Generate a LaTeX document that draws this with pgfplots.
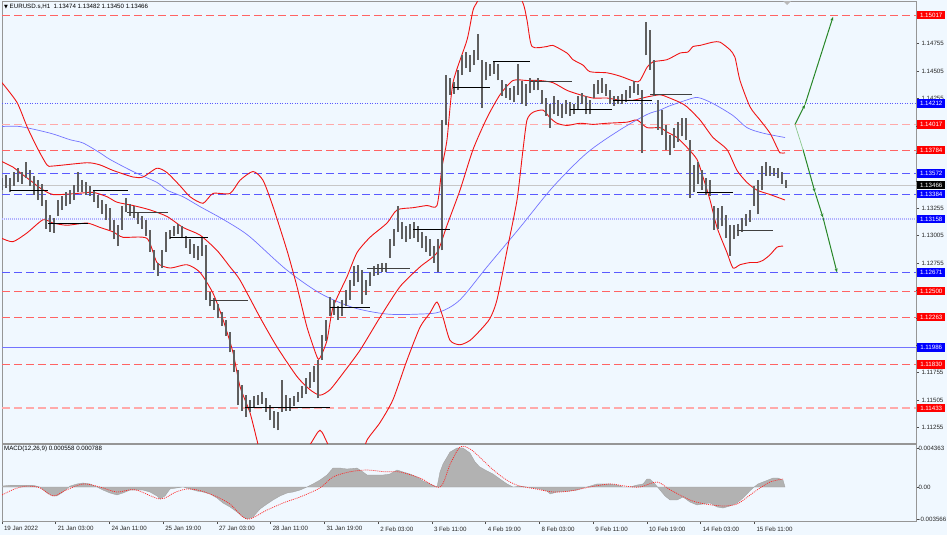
\documentclass[border=0pt]{standalone}
\usepackage{pgfplots}
\pgfplotsset{compat=1.18}
\usepackage{pgfplotstable}
\usepackage{fontspec}
\setmainfont{Liberation Sans}
\newfontfamily\dejavu{DejaVu Sans}
\usetikzlibrary{arrows.meta}

\definecolor{bgc}{RGB}{240,248,255}
\definecolor{lvlred}{RGB}{255,100,100}
\definecolor{lvlpink}{RGB}{255,170,170}
\definecolor{lvlblue}{RGB}{90,90,255}
\definecolor{lvllav}{RGB}{175,175,255}
\definecolor{maline}{RGB}{115,115,255}
\definecolor{bbred}{RGB}{240,20,20}
\definecolor{candle}{RGB}{95,95,95}
\definecolor{arrowgreen}{RGB}{40,135,40}
\definecolor{lightgreen}{RGB}{140,200,140}
\definecolor{framegray}{RGB}{150,150,150}
\definecolor{lblred}{RGB}{255,0,0}
\definecolor{lblblue}{RGB}{0,0,255}

\newcommand\tk{\fontsize{6.2}{7}\selectfont}
% price box on the right scale
\newcommand\lbl[2]{\node[fill=#2, text=white, anchor=west, minimum width=28bp,
  minimum height=8.5bp, inner sep=0pt, font=\tk, xshift=1bp] at (axis cs:916,#1) {#1};}
\newcommand\lvl[2]{\addplot[#2] coordinates {(2,#1) (916,#1)};}

% hourly price range (x = chart position, lo/hi = price)
\pgfplotstableread{
x lo hi
2 1.1342 1.1353
6 1.1344 1.1356
10 1.1340 1.1353
14 1.1346 1.1359
18 1.1349 1.1362
22 1.1348 1.1359
26 1.1353 1.1368
30 1.1346 1.1360
34 1.1338 1.1355
38 1.1333 1.1351
42 1.1328 1.1348
46 1.1307 1.1333
50 1.1304 1.1319
54 1.1303 1.1317
58 1.1318 1.1333
62 1.1324 1.1337
66 1.1328 1.1340
70 1.1329 1.1342
74 1.1333 1.1347
78 1.1340 1.1359
82 1.1340 1.1351
86 1.1338 1.1349
90 1.1337 1.1346
94 1.1331 1.1342
98 1.1326 1.1338
102 1.1320 1.1333
106 1.1315 1.1329
110 1.1306 1.1326
114 1.1297 1.1315
118 1.1291 1.1310
122 1.1306 1.1328
126 1.1322 1.1335
130 1.1318 1.1329
134 1.1317 1.1328
138 1.1311 1.1322
142 1.1307 1.1318
146 1.1300 1.1315
150 1.1286 1.1306
154 1.1269 1.1287
158 1.1264 1.1276
162 1.1271 1.1287
166 1.1286 1.1304
170 1.1297 1.1306
174 1.1300 1.1309
178 1.1302 1.1311
182 1.1298 1.1309
186 1.1289 1.1300
190 1.1284 1.1297
194 1.1280 1.1293
198 1.1278 1.1291
202 1.1282 1.1298
206 1.1242 1.1292
210 1.1236 1.1249
214 1.1233 1.1244
218 1.1225 1.1238
222 1.1218 1.1231
226 1.1209 1.1224
230 1.1194 1.1213
234 1.1176 1.1196
238 1.1146 1.1178
242 1.1141 1.1164
246 1.1135 1.1155
250 1.1140 1.1151
254 1.1143 1.1154
258 1.1146 1.1155
262 1.1147 1.1158
266 1.1140 1.1152
270 1.1132 1.1146
274 1.1125 1.1141
278 1.1123 1.1140
282 1.1140 1.1169
286 1.1141 1.1155
290 1.1141 1.1152
294 1.1145 1.1154
298 1.1149 1.1158
302 1.1152 1.1163
306 1.1156 1.1171
310 1.1162 1.1176
314 1.1167 1.1182
318 1.1152 1.1187
322 1.1187 1.1210
326 1.1204 1.1224
330 1.1227 1.1245
334 1.1228 1.1242
338 1.1224 1.1236
342 1.1227 1.1242
346 1.1236 1.1251
350 1.1242 1.1260
354 1.1255 1.1273
358 1.1258 1.1274
362 1.1238 1.1269
366 1.1246 1.1260
370 1.1255 1.1267
374 1.1264 1.1273
378 1.1265 1.1275
382 1.1267 1.1276
386 1.1267 1.1276
390 1.1280 1.1297
394 1.1291 1.1307
398 1.1304 1.1328
402 1.1297 1.1313
406 1.1295 1.1309
410 1.1297 1.1311
414 1.1298 1.1313
418 1.1295 1.1309
422 1.1289 1.1304
426 1.1286 1.1300
430 1.1282 1.1297
434 1.1276 1.1291
438 1.1267 1.1297
442 1.1287 1.1406
446 1.1401 1.1447
450 1.1429 1.1444
454 1.1430 1.1441
458 1.1433 1.1452
462 1.1447 1.1465
466 1.1453 1.1468
470 1.1450 1.1465
474 1.1456 1.1470
478 1.1461 1.1484
482 1.1417 1.1461
486 1.1442 1.1459
490 1.1446 1.1457
494 1.1448 1.1459
498 1.1442 1.1457
502 1.1428 1.1442
506 1.1426 1.1439
510 1.1424 1.1435
514 1.1422 1.1437
518 1.1429 1.1457
522 1.1421 1.1442
526 1.1419 1.1439
530 1.1431 1.1444
534 1.1433 1.1442
538 1.1433 1.1444
542 1.1421 1.1433
546 1.1410 1.1426
550 1.1399 1.1421
554 1.1411 1.1428
558 1.1410 1.1424
562 1.1408 1.1421
566 1.1411 1.1424
570 1.1410 1.1422
574 1.1411 1.1421
578 1.1415 1.1428
582 1.1421 1.1431
586 1.1411 1.1428
590 1.1411 1.1424
594 1.1426 1.1439
598 1.1430 1.1442
602 1.1431 1.1444
606 1.1428 1.1439
610 1.1421 1.1433
614 1.1419 1.1428
618 1.1421 1.1428
622 1.1421 1.1430
626 1.1422 1.1433
630 1.1426 1.1437
634 1.1431 1.1442
638 1.1429 1.1439
642 1.1376 1.1433
646 1.1465 1.1495
650 1.1452 1.1488
654 1.1428 1.1461
658 1.1397 1.1424
662 1.1392 1.1415
666 1.1379 1.1401
670 1.1374 1.1392
674 1.1380 1.1399
678 1.1386 1.1404
682 1.1391 1.1408
686 1.1388 1.1408
690 1.1335 1.1388
694 1.1340 1.1365
698 1.1348 1.1368
702 1.1342 1.1360
706 1.1338 1.1353
710 1.1337 1.1351
714 1.1306 1.1328
718 1.1307 1.1326
722 1.1309 1.1328
726 1.1298 1.1319
730 1.1282 1.1310
734 1.1297 1.1310
738 1.1300 1.1311
742 1.1304 1.1317
746 1.1309 1.1320
750 1.1313 1.1324
754 1.1328 1.1346
758 1.1320 1.1351
762 1.1342 1.1364
766 1.1355 1.1368
770 1.1355 1.1364
774 1.1355 1.1362
778 1.1353 1.1362
782 1.1348 1.1359
786 1.1344 1.1351
}\candles

\begin{document}
\begin{tikzpicture}
\fill[bgc] (0,0) rectangle (947bp,-535bp);
\path[use as bounding box] (0,0) rectangle (947bp,-535bp);

\begin{axis}[
    name=main, at={(2bp,-1bp)}, anchor=north west,
    scale only axis, width=914bp, height=442bp,
    xmin=2, xmax=916, ymin=1.11114, ymax=1.15145,
    axis line style={framegray, line width=1bp},
    xtick=\empty,
    ytick={1.11255,1.11505,1.11755,1.12755,1.13005,1.13255,1.14255,1.14505,1.14755},
    yticklabels={1.11255,1.11505,1.11755,1.12755,1.13005,1.13255,1.14255,1.14505,1.14755},
    extra y ticks={1.12005,1.12255,1.12505,1.13505,1.13755,1.14005},
    extra y tick labels={},
    ytick pos=right, yticklabel pos=right, scaled y ticks=false,
    tick align=outside, major tick length=3bp,
    tick style={black!70, line width=0.6bp},
    yticklabel style={font=\tk, anchor=west, xshift=-1bp, text=black!85},
    after end axis/.code={
      \lbl{1.15017}{lblred}
      \lbl{1.14212}{lblblue}
      \lbl{1.14017}{lblred}
      \lbl{1.13784}{lblred}
      \lbl{1.13572}{lblblue}
      \lbl{1.13466}{black}
      \lbl{1.13384}{lblblue}
      \lbl{1.13158}{lblblue}
      \lbl{1.12671}{lblblue}
      \lbl{1.12500}{lblred}
      \lbl{1.12263}{lblred}
      \lbl{1.11986}{lblblue}
      \lbl{1.11830}{lblred}
      \lbl{1.11433}{lblred}
    },
]
% horizontal levels
\lvl{1.15017}{lvlred, line width=0.9bp, dash pattern=on 8bp off 4bp}
\lvl{1.14212}{lvlblue, line width=0.8bp, dash pattern=on 1bp off 1.5bp}
\lvl{1.14017}{lvlpink, line width=1.6bp, dash pattern=on 8bp off 4bp}
\lvl{1.13784}{lvlred, line width=0.9bp, dash pattern=on 8bp off 4bp}
\lvl{1.13572}{lvlblue, line width=0.9bp, dash pattern=on 8bp off 4bp}
\lvl{1.13466}{black!22, line width=0.7bp}
\lvl{1.13384}{lvlblue, line width=0.9bp, dash pattern=on 8bp off 4bp}
\lvl{1.13158}{lvllav, line width=1.6bp, dash pattern=on 1bp off 1bp}
\lvl{1.12671}{lvlblue, line width=0.9bp, dash pattern=on 8bp off 4bp}
\lvl{1.12500}{lvlred, line width=0.9bp, dash pattern=on 8bp off 4bp}
\lvl{1.12263}{lvlred, line width=0.9bp, dash pattern=on 8bp off 4bp}
\lvl{1.11986}{maline, line width=0.9bp}
\lvl{1.11830}{lvlred, line width=0.9bp, dash pattern=on 8bp off 4bp}
\lvl{1.11433}{lvlpink, line width=1.6bp, dash pattern=on 8bp off 4bp}

% slow moving average
\addplot[maline, line width=0.7bp, smooth] coordinates {
(2,1.1400) (20,1.1400) (50,1.1394) (70,1.1388) (83,1.1385) (100,1.1376) (110,1.1370)
(133,1.1359) (157,1.1349) (167,1.1342) (183,1.1336) (200,1.1327) (220,1.1317)
(240,1.1306) (253,1.1297) (287,1.1269) (320,1.1248) (353,1.1235) (387,1.1229)
(420,1.1229) (440,1.1231) (460,1.1242) (487,1.1272) (520,1.1308) (553,1.1345)
(587,1.1376) (620,1.1397) (647,1.1411) (660,1.1415) (670,1.1419) (693,1.1426)
(700,1.1426) (713,1.1421) (733,1.1410) (747,1.1399) (763,1.1394) (785,1.1390)};

% Bollinger bands
\addplot[bbred, line width=0.9bp, smooth, tension=0.4] coordinates {
(2,1.1440) (17,1.1422) (27,1.1400) (37,1.1381) (47,1.1365) (53,1.1364) (87,1.1367)
(100,1.1365) (113,1.1360) (133,1.1354) (143,1.1354) (157,1.1362) (167,1.1358)
(180,1.1346) (190,1.1336) (203,1.1330) (213,1.1339) (230,1.1339) (240,1.1351)
(253,1.1359) (263,1.1351) (273,1.1327) (287,1.1287) (297,1.1254) (307,1.1217)
(317,1.1190) (320,1.1189) (327,1.1205) (333,1.1235) (347,1.1263) (357,1.1285)
(370,1.1299) (387,1.1312) (397,1.1324) (413,1.1326) (427,1.1328) (437,1.1328)
(442,1.1363) (447,1.1388) (453,1.1440) (467,1.1479) (473,1.1506) (478,1.1515)
(500,1.1552) (522,1.1515) (527,1.1497) (532,1.1473) (547,1.1473) (553,1.1474)
(567,1.1467) (573,1.1461) (583,1.1456) (590,1.1450) (607,1.1449) (620,1.1446)
(635,1.1441) (640,1.1442) (647,1.1454) (653,1.1459) (667,1.1461) (680,1.1467)
(688,1.1468) (693,1.1473) (700,1.1474) (713,1.1477) (720,1.1477) (730,1.1470)
(735,1.1463) (740,1.1442) (750,1.1418) (760,1.1406) (770,1.1394) (777,1.1381)
(780,1.1376) (785,1.1376)};
\addplot[bbred, line width=0.9bp, smooth, tension=0.4] coordinates {
(2,1.1368) (13,1.1363) (20,1.1358) (33,1.1349) (40,1.1344) (53,1.1338) (77,1.1339)
(93,1.1340) (107,1.1336) (117,1.1331) (133,1.1328) (150,1.1324) (167,1.1318)
(183,1.1308) (200,1.1301) (217,1.1287) (230,1.1272) (240,1.1260) (260,1.1226)
(277,1.1199) (297,1.1172) (310,1.1160) (320,1.1155) (330,1.1160) (343,1.1175)
(360,1.1196) (380,1.1226) (400,1.1254) (420,1.1272) (437,1.1285) (447,1.1310)
(460,1.1342) (473,1.1379) (487,1.1408) (500,1.1429) (513,1.1442) (527,1.1442)
(540,1.1442) (553,1.1440) (567,1.1433) (580,1.1429) (593,1.1426) (607,1.1426)
(620,1.1424) (633,1.1424) (647,1.1427) (660,1.1429) (667,1.1427) (680,1.1422)
(687,1.1418) (700,1.1406) (713,1.1390) (727,1.1379) (737,1.1360) (747,1.1349)
(757,1.1342) (770,1.1338) (785,1.1333)};
\addplot[bbred, line width=0.9bp, smooth, tension=0.4] coordinates {
(2,1.1298) (13,1.1295) (27,1.1303) (43,1.1315) (53,1.1312) (67,1.1310) (87,1.1312)
(100,1.1308) (113,1.1304) (123,1.1299) (147,1.1298) (157,1.1276) (170,1.1271)
(187,1.1274) (200,1.1267) (213,1.1248) (223,1.1224) (233,1.1194) (240,1.1163)
(250,1.1139) (257,1.1114) (265,1.1087) (290,1.1087) (310,1.1110) (320,1.1123)
(328,1.1110) (340,1.1087) (360,1.1096) (367,1.1114) (380,1.1130) (393,1.1151)
(407,1.1187) (420,1.1217) (430,1.1230) (437,1.1240) (443,1.1226) (450,1.1205)
(460,1.1201) (470,1.1205) (480,1.1214) (490,1.1225) (497,1.1242) (507,1.1287)
(517,1.1333) (523,1.1379) (527,1.1406) (533,1.1413) (543,1.1415) (550,1.1408)
(557,1.1403) (567,1.1401) (580,1.1403) (593,1.1402) (607,1.1403) (627,1.1404)
(637,1.1406) (647,1.1399) (660,1.1399) (667,1.1395) (677,1.1390) (687,1.1381)
(697,1.1370) (703,1.1354) (710,1.1333) (717,1.1308) (727,1.1285) (733,1.1271)
(740,1.1274) (750,1.1276) (757,1.1276) (763,1.1278) (770,1.1283) (777,1.1290)
(783,1.1291)};

% candles as high-low ranges
\addplot[only marks, mark=*, mark size=0pt, mark options={draw opacity=0, fill opacity=0},
  error bars/.cd, y dir=plus, y explicit, error mark=none,
  error bar style={line width=2.2bp, candle, draw opacity=1}]
  table[x=x, y=lo, y error plus expr=\thisrow{hi}-\thisrow{lo}] {\candles};

% session open lines
\addplot[black, line width=1bp] coordinates {(10,1.1342) (48,1.1342)};
\addplot[black, line width=1bp] coordinates {(48,1.1312) (88,1.1312)};
\addplot[black, line width=1bp] coordinates {(93,1.1342) (128,1.1342)};
\addplot[black!75, line width=1bp] coordinates {(127,1.1322) (168,1.1322)};
\addplot[black, line width=1bp] coordinates {(170,1.1299) (208,1.1299)};
\addplot[black!75, line width=1bp] coordinates {(210,1.1241) (248,1.1241)};
\addplot[black, line width=1bp] coordinates {(245,1.1144) (330,1.1144)};
\addplot[black, line width=1bp] coordinates {(330,1.1235) (370,1.1235)};
\addplot[black!75, line width=1bp] coordinates {(367,1.1271) (410,1.1271)};
\addplot[black, line width=1bp] coordinates {(413,1.1306) (450,1.1306)};
\addplot[black, line width=1bp] coordinates {(453,1.1436) (490,1.1436)};
\addplot[black, line width=1bp] coordinates {(493,1.1459) (530,1.1459)};
\addplot[black!75, line width=1bp] coordinates {(530,1.1441) (572,1.1441)};
\addplot[black, line width=1bp] coordinates {(570,1.1416) (612,1.1416)};
\addplot[black, line width=1bp] coordinates {(613,1.1424) (652,1.1424)};
\addplot[black!75, line width=1bp] coordinates {(650,1.1429) (692,1.1429)};
\addplot[black, line width=1bp] coordinates {(697,1.1340) (733,1.1340)};
\addplot[black!75, line width=1bp] coordinates {(737,1.1305) (773,1.1305)};

% forecast arrows
\addplot[arrowgreen, line width=1bp, -{Stealth[length=4bp,width=3bp]}] coordinates {(795,1.1402) (805,1.1420)};
\addplot[arrowgreen, line width=1bp, -{Stealth[length=4bp,width=3bp]}] coordinates {(805,1.1420) (833,1.1500)};
\addplot[lightgreen, line width=0.7bp] coordinates {(795,1.1402) (803,1.1379)};
\addplot[arrowgreen, line width=1bp, -{Stealth[length=4bp,width=3bp]}] coordinates {(803,1.1379) (815,1.1340)};
\addplot[arrowgreen, line width=1bp, -{Stealth[length=4bp,width=3bp]}] coordinates {(815,1.1340) (823,1.1317)};
\addplot[arrowgreen, line width=1bp, -{Stealth[length=4bp,width=3bp]}] coordinates {(823,1.1317) (837,1.1267)};
\end{axis}

\begin{axis}[
    name=macd, at={(2bp,-444bp)}, anchor=north west,
    scale only axis, width=914bp, height=77bp,
    xmin=2, xmax=916, ymin=-0.003799, ymax=0.004804,
    axis line style={framegray, line width=1bp},
    xtick={2,55.75,109.5,163.25,217,270.75,324.5,378.25,432,485.75,539.5,593.25,647,700.75,754.5},
    xticklabels={19 Jan 2022,21 Jan 03:00,24 Jan 11:00,25 Jan 19:00,27 Jan 03:00,28 Jan 11:00,31 Jan 19:00,2 Feb 03:00,3 Feb 11:00,4 Feb 19:00,8 Feb 03:00,9 Feb 11:00,10 Feb 19:00,14 Feb 03:00,15 Feb 11:00},
    xtick pos=bottom, xticklabel style={font=\tk, anchor=north west, xshift=-1.5bp, yshift=1bp, text=black!85},
    ytick={-0.003566,0,0.004363},
    yticklabels={-0.003566,0.00,0.004363},
    ytick pos=right, yticklabel pos=right, scaled y ticks=false, scaled x ticks=false,
    tick align=outside, major tick length=3bp,
    tick style={black!70, line width=0.6bp},
    yticklabel style={font=\tk, anchor=west, xshift=-4bp, text=black!85},
]
\addplot[fill=gray!60, draw=gray!75, line width=0.3bp] coordinates {
(2,0) (2,0.0001) (10,0.0002) (20,0.0002) (33,0.0002) (40,0) (47,-0.00067) (53,-0.0010)
(57,-0.0010) (63,-0.00056) (70,0.0001) (77,0.00034) (83,0.00045) (90,0.00034) (97,0)
(103,-0.00034) (110,-0.00067) (117,-0.00089) (123,-0.00067) (130,-0.00034) (143,-0.00034)
(150,-0.00056) (157,-0.0010) (160,-0.00134) (165,-0.0010) (170,-0.00022) (177,-0.0001)
(183,0) (190,-0.00022) (197,-0.00045) (203,-0.00056) (210,-0.00078) (217,-0.00123)
(223,-0.00179) (230,-0.00223) (237,-0.00279) (243,-0.00335) (247,-0.00358) (253,-0.00335)
(260,-0.00246) (267,-0.0019) (273,-0.00145) (280,-0.0010) (287,-0.00067) (293,-0.00056)
(300,-0.00034) (307,0) (313,0.00034) (320,0.00078) (327,0.00134) (333,0.00212)
(340,0.00212) (347,0.00201) (357,0.00212) (363,0.00168) (367,0.00134) (383,0.00134)
(390,0.00145) (397,0.0019) (403,0.00168) (410,0.00145) (417,0.00112) (423,0.00067)
(430,0.00034) (437,0) (440,0.00168) (443,0.00257) (450,0.0039) (457,0.00436)
(463,0.00436) (470,0.0038) (475,0.0028) (480,0.00223) (487,0.00179) (493,0.00145)
(500,0.00089) (507,0.00034) (513,0) (520,0.0001) (527,0) (533,-0.0001) (540,-0.00022)
(547,-0.00045) (550,-0.00078) (557,-0.00056) (570,-0.00045) (577,-0.00034) (583,-0.0001)
(590,0.0001) (597,0.00034) (610,0.00034) (617,0.00022) (623,0) (630,0) (637,0.00022)
(643,0.00034) (647,0.00089) (650,0.00089) (655,0.00034) (660,-0.00034) (665,-0.0010)
(670,-0.00145) (677,-0.00145) (683,-0.00112) (690,-0.00168) (697,-0.00201) (703,-0.0019)
(710,-0.00179) (717,-0.00223) (723,-0.00235) (730,-0.00212) (737,-0.00179) (743,-0.00123)
(748,-0.00067) (753,-0.0001) (758,0.00034) (763,0.00056) (768,0.00078) (773,0.0010)
(778,0.0010) (783,0.00078) (785,0)} --cycle;
\addplot[red!85, line width=0.7bp, dash pattern=on 1bp off 1bp, smooth] coordinates {
(2,-0.00089) (15,-0.0002) (27,0.0001) (40,-0.0001) (53,-0.0010) (65,-0.0004) (83,0.00034)
(100,0) (117,-0.00056) (135,-0.0003) (160,-0.00134) (175,-0.0006) (187,-0.00022)
(200,-0.0004) (215,-0.0010) (230,-0.0019) (247,-0.00358) (267,-0.00257) (285,-0.0017)
(300,-0.00112) (320,-0.0001) (333,0.00112) (350,0.0017) (367,0.0019) (385,0.0017)
(400,0.00168) (420,0.0010) (440,0) (450,0.0025) (460,0.00447) (470,0.00425)
(480,0.0033) (490,0.00223) (500,0.0013) (510,0.00056) (520,0.0001) (535,-0.0002)
(553,-0.00056) (570,-0.00045) (590,0) (610,0.00034) (625,0.0001) (640,0)
(657,0.00056) (670,-0.0003) (690,-0.00145) (705,-0.0019) (723,-0.00212) (737,-0.0019)
(750,-0.0009) (757,-0.00034) (770,0.00056) (783,0.00089)};
\end{axis}

% window captions
\node[anchor=west, inner sep=0pt, font=\tk] at (4bp,-7bp)
  {{\dejavu\fontsize{5}{6}\selectfont ▼}\ EURUSD.s,H1\ \ 1.13474 1.13482 1.13450 1.13466};
\node[anchor=west, inner sep=0pt, font=\tk] at (4bp,-449bp)
  {MACD(12,26,9) 0.000558 0.000788};
\fill[gray!55] (783bp,-1bp) -- (791bp,-1bp) -- (787bp,-5bp) -- cycle;
\end{tikzpicture}
\end{document}
